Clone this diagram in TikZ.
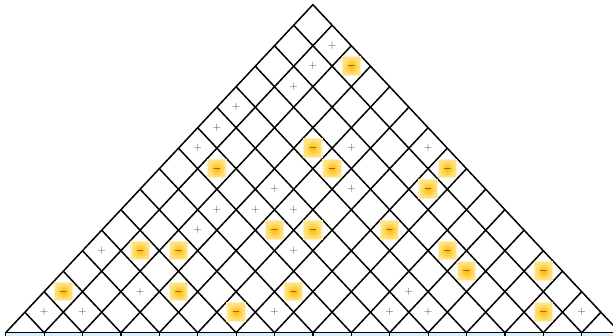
\documentclass[tikz,border=0pt]{standalone}
\begin{document}
\begin{tikzpicture}[
  gridline/.style={line width=1.5pt, black, line join=miter, line cap=butt},
  plusmark/.style={inner sep=0pt, text=black!72, font=\fontsize{11}{11}\selectfont},
  halo/.style={inner sep=0pt, minimum size=19.5pt, fill={rgb,255:red,255;green,240;blue,195}},
  minusmark/.style={inner sep=0pt, minimum size=16.5pt, shading=radial,
     inner color={rgb,255:red,255;green,186;blue,0},
     outer color={rgb,255:red,255;green,226;blue,130},
     text=black, font=\fontsize{11}{11}\selectfont},
  stripcell/.style={fill={rgb,255:red,218;green,238;blue,250}, draw=black, line width=1.2pt}
]
\useasboundingbox (0,0) rectangle (613pt,335pt);
\clip (0,0) rectangle (613pt,335pt);
\begin{scope}[shift={(5.7pt,2.3pt)},x=19.2pt,y=20.5pt]
  % strip below base
  \foreach \k in {0,...,15} {
    \draw[stripcell] (2*\k,0) rectangle (2*\k+2,-1);
  }
  \coordinate (BL) at (0,0);
  \coordinate (BR) at (32,0);
  \coordinate (AP) at (16,16);
  % grid lines
  \foreach \k in {1,...,15} {
    \coordinate (s\k) at (2*\k,0);
    \coordinate (e\k) at (16+\k,16-\k);
    \coordinate (f\k) at (\k,\k);
    \draw[gridline] (s\k) -- (e\k);
    \draw[gridline] (s\k) -- (f\k);
  }
  \draw[gridline] (BL) -- (AP) -- (BR);
  \draw[gridline] (BL) -- (BR);
  % plus marks
  \foreach \u/\v [count=\i] in {17/14,16/13,15/12,12/11,11/10,10/9,18/9,22/9,14/7,18/7,
      11/6,13/6,15/6,10/5,5/4,15/4,7/2,21/2,2/1,4/1,14/1,20/1,22/1,30/1} {
    \node[plusmark] (p\i) at (\u,\v) {$+$};
  }
  % minus marks
  \foreach \u/\v [count=\i] in {18/13,16/9,11/8,17/8,23/8,22/7,14/5,16/5,20/5,7/4,9/4,
      23/4,24/3,28/3,3/2,9/2,15/2,12/1,28/1} {
    \node[halo] (h\i) at (\u,\v) {};
    \node[minusmark] (m\i) at (\u,\v) {$-$};
  }
\end{scope}
\end{tikzpicture}
\end{document}
